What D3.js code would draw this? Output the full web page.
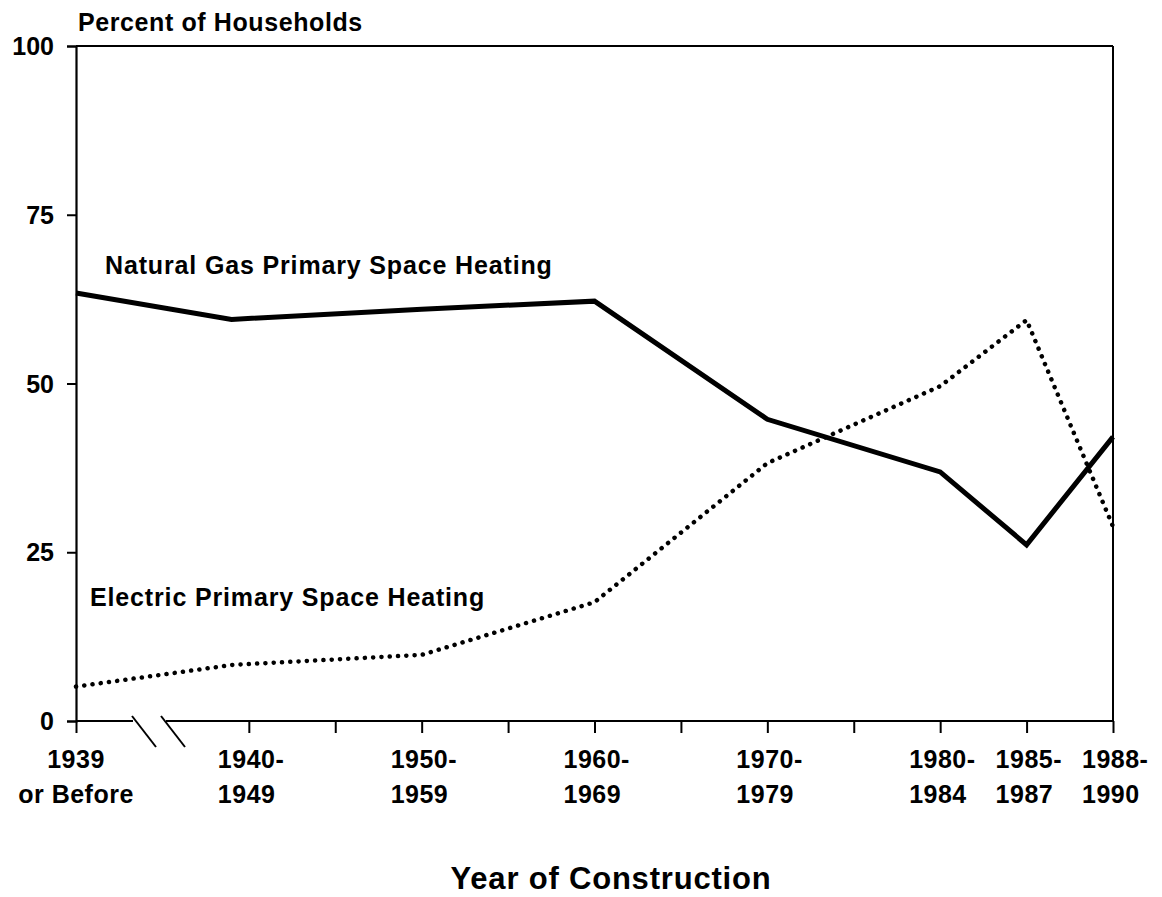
<!DOCTYPE html>
<html>
<head>
<meta charset="utf-8">
<script src="https://cdn.jsdelivr.net/npm/d3@7"></script>
<style>
  html, body { margin: 0; padding: 0; background: #fff; }
  svg { display: block; }
  text { font-family: "Liberation Sans", Arial, Helvetica, sans-serif; font-weight: bold; fill: #000; }
</style>
</head>
<body>
<svg id="chart" width="1162" height="897"></svg>
<script>
// ---- data ----
const categories = ["1939 or Before", "1940-1949", "1950-1959", "1960-1969", "1970-1979", "1980-1984", "1985-1987", "1988-1990"];
// position of each category on the (broken) year-of-construction axis
const plotYears = [1930, 1939, 1950, 1960, 1970, 1980, 1985, 1990];
const gasValues = [63.4, 59.5, 61.0, 62.2, 44.7, 36.9, 26.1, 42.1];
const electricValues = [5.1, 8.3, 9.8, 17.6, 38.2, 49.6, 59.4, 28.8];
const yTicks = [0, 25, 50, 75, 100];
const xTickYears = [1930, 1940, 1945, 1950, 1955, 1960, 1965, 1970, 1975, 1980, 1985, 1990];
const xLabelYears = [1930, 1940, 1950, 1960, 1970, 1980, 1985, 1990];
const xLabelLines = [["1939", "or Before"], ["1940-", "1949"], ["1950-", "1959"], ["1960-", "1969"], ["1970-", "1979"], ["1980-", "1984"], ["1985-", "1987"], ["1988-", "1990"]];
const yTitle = "Percent of Households";
const xTitle = "Year of Construction";
const gasLabel = "Natural Gas Primary Space Heating";
const electricLabel = "Electric Primary Space Heating";

// ---- layout ----
const margin = { left: 76, top: 46, right: 49, bottom: 176 };
const W = 1162, H = 897;
const iw = W - margin.left - margin.right;
const ih = H - margin.top - margin.bottom;

const svg = d3.select("#chart");
const g = svg.append("g").attr("transform", `translate(${margin.left},${margin.top})`);

const x = d3.scaleLinear().domain([1930, 1990]).range([0, iw]);
const y = d3.scaleLinear().domain([0, 100]).range([ih, 0]);

// frame (top and right)
g.append("line").attr("x1", 0).attr("x2", iw).attr("y1", 0).attr("y2", 0)
  .attr("stroke", "#000").attr("stroke-width", 2);
g.append("line").attr("x1", iw).attr("x2", iw).attr("y1", 0).attr("y2", ih)
  .attr("stroke", "#000").attr("stroke-width", 2);

// y axis
const yAxis = g.append("g").call(d3.axisLeft(y).tickValues(yTicks).tickSize(9).tickFormat(""));
yAxis.select(".domain").attr("stroke-width", 2.2);
yAxis.selectAll(".tick line").attr("stroke-width", 2);
g.selectAll(".ylab").data(yTicks).enter().append("text")
  .attr("class", "ylab")
  .attr("x", -22).attr("y", d => y(d)).attr("dy", "0.36em")
  .attr("text-anchor", "end").style("font-size", "25px")
  .text(d => d);

// x axis ticks
const xAxis = g.append("g").attr("transform", `translate(0,${ih})`)
  .call(d3.axisBottom(x).tickValues(xTickYears).tickSize(12).tickFormat(""));
xAxis.select(".domain").remove();
xAxis.selectAll(".tick line").attr("stroke-width", 2);

// x axis baseline with a break after the first category
const bx0 = x(1930), bx1 = x(1990);
const brk1 = bx0 + 57, brk2 = bx0 + 90;
g.append("line").attr("x1", bx0).attr("x2", brk1).attr("y1", ih).attr("y2", ih)
  .attr("stroke", "#000").attr("stroke-width", 2);
g.append("line").attr("x1", brk2).attr("x2", bx1).attr("y1", ih).attr("y2", ih)
  .attr("stroke", "#000").attr("stroke-width", 2);
[brk1 - 1, brk2 - 5].forEach(bx => {
  g.append("line").attr("x1", bx).attr("y1", ih - 5).attr("x2", bx + 24).attr("y2", ih + 26)
    .attr("stroke", "#000").attr("stroke-width", 2);
});

// x tick labels (first one centred under its tick, the rest start left of the tick)
const xl = g.selectAll(".xlab").data(xLabelYears).enter().append("text")
  .attr("class", "xlab")
  .attr("y", ih + 47)
  .attr("text-anchor", (d, i) => i === 0 ? "middle" : "start")
  .style("font-size", "25px").style("letter-spacing", "0.5px");
xl.each(function (d, i) {
  const t = d3.select(this);
  const lx = i === 0 ? x(d) : x(d) - 31;
  xLabelLines[i].forEach((line, k) => {
    t.append("tspan").attr("x", lx).attr("dy", k === 0 ? 0 : 35).text(line);
  });
});

// lines
const gasData = categories.map((c, i) => ({ yr: plotYears[i], v: gasValues[i] }));
const elecData = categories.map((c, i) => ({ yr: plotYears[i], v: electricValues[i] }));
const line = d3.line().x(d => x(d.yr)).y(d => y(d.v));

g.append("path").datum(gasData).attr("d", line)
  .attr("fill", "none").attr("stroke", "#000").attr("stroke-width", 5)
  .attr("stroke-linejoin", "miter");
g.append("path").datum(elecData).attr("d", line)
  .attr("fill", "none").attr("stroke", "#000").attr("stroke-width", 4.5)
  .attr("stroke-linecap", "round").attr("stroke-dasharray", "0.1 8.2");

// series labels
g.append("text").attr("x", 105 - margin.left).attr("y", 274 - margin.top)
  .style("font-size", "25px").style("letter-spacing", "0.85px").text(gasLabel);
g.append("text").attr("x", 90 - margin.left).attr("y", 606 - margin.top)
  .style("font-size", "25px").style("letter-spacing", "0.85px").text(electricLabel);

// titles
svg.append("text").attr("x", 78).attr("y", 31)
  .style("font-size", "25px").style("letter-spacing", "0.6px").text(yTitle);
svg.append("text").attr("x", 611).attr("y", 889)
  .attr("text-anchor", "middle").style("font-size", "31px").style("letter-spacing", "0.8px").text(xTitle);
</script>
</body>
</html>
